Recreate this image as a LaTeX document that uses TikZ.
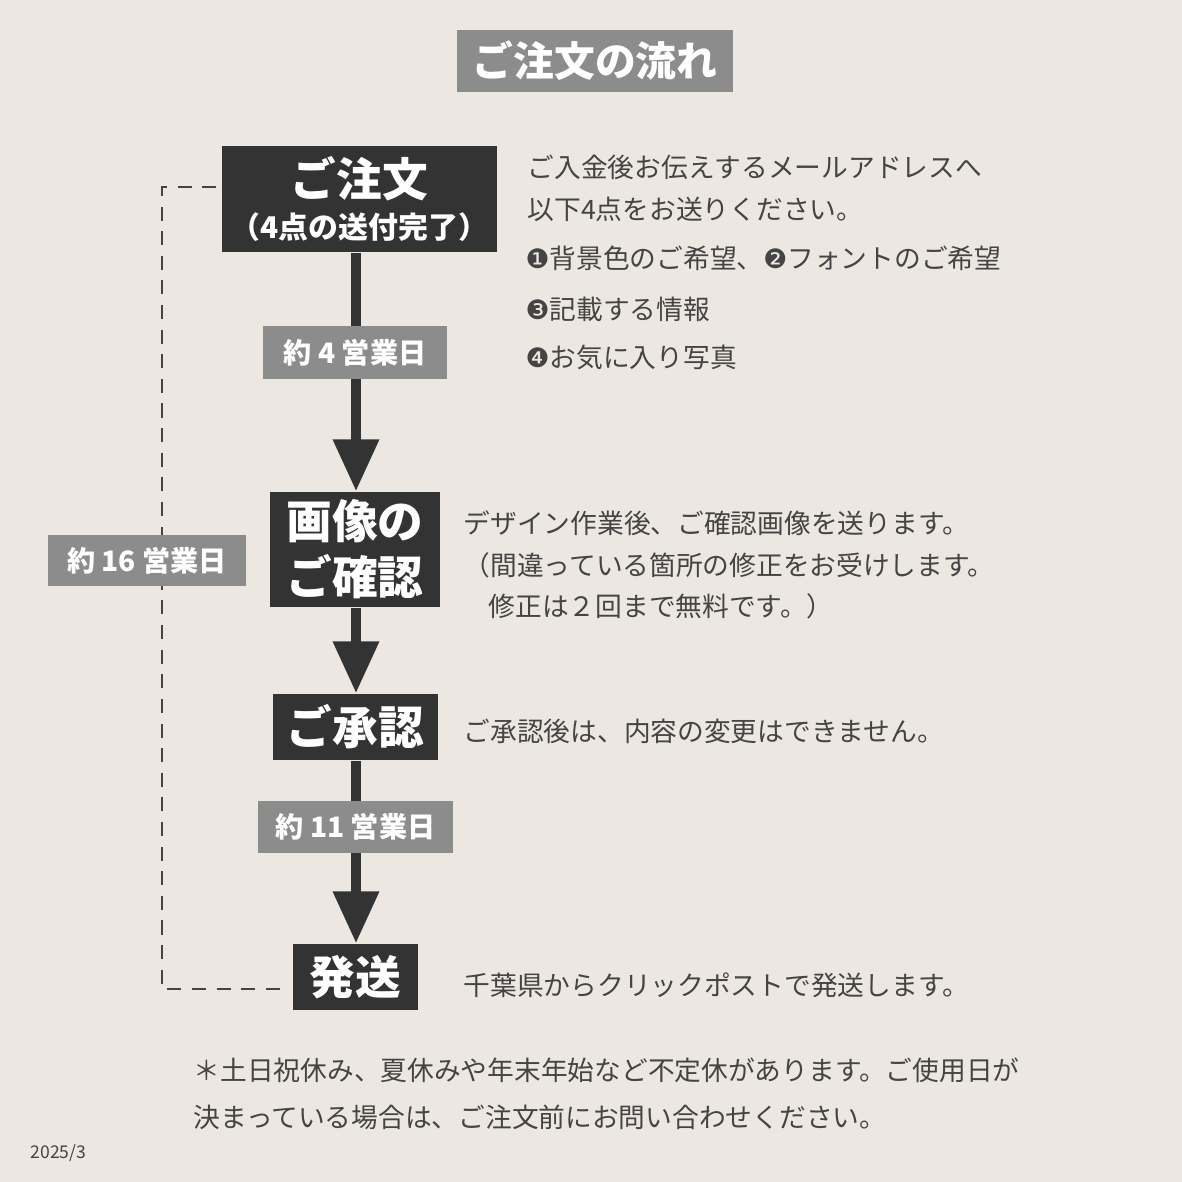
\documentclass[tikz,border=0pt]{standalone}
\usepackage{fontspec}
\setmainfont{Noto Sans CJK JP}
\newfontfamily\dingfont{DejaVu Sans}
\usetikzlibrary{arrows.meta,positioning}
\definecolor{bgbeige}{HTML}{ECE8E1}
\definecolor{boxdark}{HTML}{333333}
\definecolor{labelgray}{HTML}{8C8C8C}
\definecolor{textgray}{HTML}{444444}
\newcommand{\dg}[1]{{\dingfont #1}}
\tikzset{
  stage/.style={fill=boxdark, text=white, font=\fontsize{13}{15}\bfseries, inner sep=0pt, align=center},
  days/.style={fill=labelgray, text=white, font=\fontsize{8}{10}\bfseries, inner sep=0pt},
  note/.style={anchor=west, text=textgray, font=\fontsize{7.6}{9}\selectfont, inner sep=0pt},
  flow/.style={boxdark, line width=10*0.2845pt, -{Triangle[length=0.52cm,width=0.44cm]}},
  loop/.style={textgray, line width=0.7pt, dash pattern=on 4pt off 3pt}
}
\begin{document}
\begin{tikzpicture}[x=0.01cm,y=-0.01cm]
  \fill[bgbeige] (0,0) rectangle (1182,1182);
  \useasboundingbox (0,0) rectangle (1182,1182);

  % title
  \node[fill=labelgray, text=white, font=\fontsize{11.6}{13}\bfseries, minimum width=276*0.01cm, minimum height=62*0.01cm, inner sep=0pt] (title) at (595,61) {ご注文の流れ};

  % steps
  \node[stage, minimum width=275*0.01cm, minimum height=106*0.01cm] (order) at (359.5,199)
    {ご注文\\[-3pt]{\fontsize{8.5}{10}\bfseries （4点の送付完了）}};
  \node[stage, minimum width=170*0.01cm, minimum height=115*0.01cm] (confirm) at (355,549.5) {画像の\\[1pt]ご確認};
  \node[stage, minimum width=165*0.01cm, minimum height=66*0.01cm] (approve) at (355.5,727) {ご承認};
  \node[stage, minimum width=125*0.01cm, minimum height=66*0.01cm] (ship) at (355.5,977) {発送};

  % arrows
  \draw[flow] (order.south -| 356,0) -- (confirm.north -| 356,0);
  \draw[flow] (confirm.south -| 356,0) -- (approve.north -| 356,0);
  \draw[flow] (approve.south -| 356,0) -- (ship.north -| 356,0);

  % durations
  \node[days, minimum width=184*0.01cm, minimum height=53*0.01cm] (d4) at (355,352.5) {約 4 営業日};
  \node[days, minimum width=195*0.01cm, minimum height=52*0.01cm] (d11) at (355.5,827) {約 11 営業日};

  % total loop
  \coordinate (lt) at (162,187);
  \coordinate (lb) at (162,989);
  \draw[loop] ([xshift=-5*0.01cm]order.west |- lt) -- (lt) -- (lb) -- ([xshift=-5*0.01cm]ship.west |- lb);
  \node[days, minimum width=198*0.01cm, minimum height=51*0.01cm] (d16) at (147,560.5) {約 16 営業日};

  % notes
  \node[note] (n1) at (527,167) {ご入金後お伝えするメールアドレスへ};
  \node[note] (n2) at (527,209) {以下4点をお送りください。};
  \node[note] (n3) at (525,258) {\dg{❶}背景色のご希望、\dg{❷}フォントのご希望};
  \node[note] (n4) at (525,309) {\dg{❸}記載する情報};
  \node[note] (n5) at (525,357) {\dg{❹}お気に入り写真};
  \node[note] (n6) at (463,523) {デザイン作業後、ご確認画像を送ります。};
  \node[note] (n7) at (463,565) {（間違っている箇所の修正をお受けします。};
  \node[note] (n8) at (488,606) {修正は２回まで無料です。）};
  \node[note] (n9) at (463,731) {ご承認後は、内容の変更はできません。};
  \node[note] (n10) at (463,985) {千葉県からクリックポストで発送します。};

  % footer
  \node[note] (f1) at (193,1070) {＊土日祝休み、夏休みや年末年始など不定休があります。ご使用日が};
  \node[note] (f2) at (193,1117) {決まっている場合は、ご注文前にお問い合わせください。};
  \node[note, font=\fontsize{5}{6}\selectfont] (date) at (30,1153) {2025/3};
\end{tikzpicture}
\end{document}
